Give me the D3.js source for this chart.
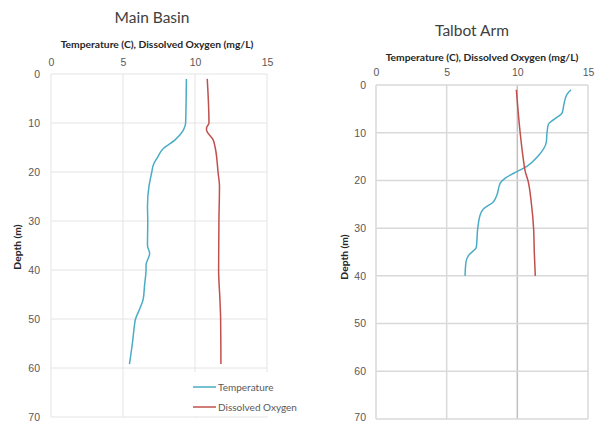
<!DOCTYPE html>
<html>
<head>
<meta charset="utf-8">
<script src="https://cdn.jsdelivr.net/npm/d3@7"></script>
<style>
  body { margin: 0; background: #fff; }
  svg { display: block; font-family: Lato, "Noto Sans", sans-serif; }
  .tick text { fill: #595959; font-size: 10.5px; }
</style>
</head>
<body>
<script>
// Main Basin profile (depth m, value)
const mainTempDepth = [1, 10, 11.4, 13.5, 15.2, 17, 18.6, 20, 23, 27, 30, 35, 36.6, 39, 40, 43, 46, 48, 50.2, 51.2, 55, 59.2];
const mainTemp      = [9.4, 9.35, 9.2, 8.6, 7.8, 7.4, 7.1, 7.0, 6.8, 6.7, 6.72, 6.7, 6.85, 6.6, 6.6, 6.5, 6.4, 6.15, 5.85, 5.8, 5.65, 5.45];
const mainDODepth   = [1, 10, 11, 11.4, 13.5, 15, 20, 23, 30, 40, 46, 50, 59.2];
const mainDO        = [10.85, 10.97, 10.8, 10.8, 11.27, 11.4, 11.6, 11.7, 11.66, 11.64, 11.73, 11.78, 11.8];

// Talbot Arm profile
const talbotTempDepth = [1, 2, 4, 5.9, 7.2, 8.2, 10, 12, 15, 17, 18.5, 19.5, 20.5, 23, 24.5, 26, 27, 30, 34, 35.7, 37, 40];
const talbotTemp      = [13.8, 13.5, 13.3, 13.16, 12.6, 12.2, 12.1, 12.05, 11.44, 10.7, 9.74, 9.15, 8.8, 8.56, 8.3, 7.6, 7.4, 7.2, 7.1, 6.55, 6.37, 6.3];
const talbotDODepth   = [1, 10, 15, 18, 20, 25, 30, 35, 40];
const talbotDO        = [9.93, 10.2, 10.4, 10.55, 10.75, 11.0, 11.15, 11.2, 11.27];

const xTicks = [0, 5, 10, 15];
const yTicks = [0, 10, 20, 30, 40, 50, 60, 70];
const seriesNames = ["Temperature", "Dissolved Oxygen"];
const seriesColors = ["#4bacc6", "#c0504d"];

const svg = d3.select("body").append("svg").attr("width", 598).attr("height", 422);

function drawChart(opt) {
  const x = d3.scaleLinear().domain([0, 15]).range([opt.left, opt.right]);
  const y = d3.scaleLinear().domain([0, 70]).range([opt.top, opt.bottom]);

  // grid
  const g = svg.append("g");
  g.selectAll(".vg").data(xTicks).enter().append("line")
    .attr("x1", d => x(d)).attr("x2", d => x(d))
    .attr("y1", y(0)).attr("y2", y(70))
    .attr("stroke", d => (opt.darkTen && d === 10) ? "#bfbfbf" : opt.grid)
    .attr("stroke-width", opt.gridW);
  g.selectAll(".hg").data(yTicks).enter().append("line")
    .attr("y1", d => y(d)).attr("y2", d => y(d))
    .attr("x1", x(0)).attr("x2", x(15))
    .attr("stroke", opt.grid)
    .attr("stroke-width", opt.gridW);

  // axes (labels only)
  const xa = svg.append("g").attr("transform", `translate(0,${opt.top})`)
    .call(d3.axisTop(x).tickValues(xTicks).tickSize(0).tickPadding(opt.xPad));
  xa.select(".domain").remove();
  const ya = svg.append("g").attr("transform", `translate(${opt.left},0)`)
    .call(d3.axisLeft(y).tickValues(yTicks).tickSize(0).tickPadding(opt.yPad));
  ya.select(".domain").remove();
  if (opt.liftLast) {
    ya.selectAll(".tick text").filter(d => d === 70).attr("y", -opt.liftLast);
  }

  // lines
  const line = d3.line().x(d => x(d[1])).y(d => y(d[0])).curve(d3.curveMonotoneY);
  const series = [d3.zip(opt.tDepth, opt.temp), d3.zip(opt.oDepth, opt.oxy)];
  series.forEach((s, i) => {
    svg.append("path").datum(s)
      .attr("d", line)
      .attr("fill", "none")
      .attr("stroke", seriesColors[i])
      .attr("stroke-width", 1.5);
  });

  // titles
  svg.append("text")
    .attr("x", opt.titleX).attr("y", opt.titleY)
    .attr("text-anchor", "middle")
    .attr("font-size", 15.5).attr("fill", "#404040")
    .text(opt.title);
  svg.append("text")
    .attr("x", opt.axTitleX).attr("y", opt.axTitleY)
    .attr("text-anchor", "middle")
    .attr("font-size", 10.3).attr("font-weight", "bold").attr("fill", "#262626")
    .text("Temperature (C), Dissolved Oxygen (mg/L)");
  svg.append("text")
    .attr("transform", `translate(${opt.depthX},${opt.depthY}) rotate(-90)`)
    .attr("text-anchor", "middle")
    .attr("font-size", 10.3).attr("font-weight", "bold").attr("fill", "#262626")
    .text("Depth (m)");
  return { x, y };
}

drawChart({
  left: 51, right: 267, top: 74, bottom: 417,
  grid: "#e4e4e4", gridW: 1, xPad: 8, yPad: 11,
  tDepth: mainTempDepth, temp: mainTemp, oDepth: mainDODepth, oxy: mainDO,
  title: "Main Basin", titleX: 152, titleY: 23,
  axTitleX: 157, axTitleY: 48, depthX: 21, depthY: 247
});

drawChart({
  left: 376, right: 588, top: 85, bottom: 419,
  grid: "#d9d9d9", gridW: 1.5, darkTen: true, xPad: 9, yPad: 10, liftLast: 2,
  tDepth: talbotTempDepth, temp: talbotTemp, oDepth: talbotDODepth, oxy: talbotDO,
  title: "Talbot Arm", titleX: 472, titleY: 36,
  axTitleX: 482, axTitleY: 61, depthX: 348, depthY: 257
});

// legend for Main Basin
const leg = svg.append("g");
leg.append("rect").attr("x", 188).attr("y", 372).attr("width", 110).attr("height", 44).attr("fill", "#fff");
seriesNames.forEach((n, i) => {
  const ly = 387 + i * 20;
  leg.append("line").attr("x1", 193).attr("x2", 216).attr("y1", ly).attr("y2", ly)
    .attr("stroke", seriesColors[i]).attr("stroke-width", 1.5);
  leg.append("text").attr("x", 218).attr("y", ly + 3.5)
    .attr("font-size", 10).attr("fill", "#595959").text(n);
});
</script>
</body>
</html>
